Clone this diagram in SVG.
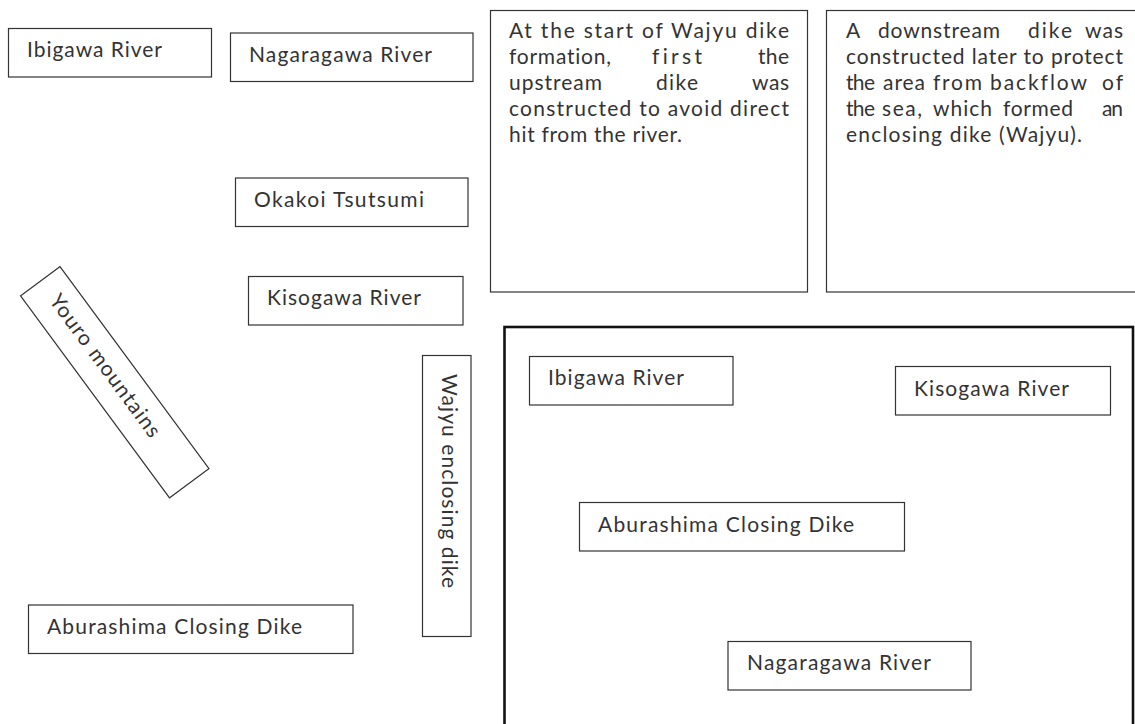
<svg xmlns="http://www.w3.org/2000/svg" width="1135" height="724" viewBox="0 0 1135 724">
<style>
  .box { fill: #ffffff; stroke: #333333; stroke-width: 1.2; }
  .frame { fill: none; stroke: #111111; stroke-width: 2.6; }
  .lbl, .para { font-family: Lato, "Noto Sans CJK JP", "Liberation Sans", sans-serif; font-size: 21px; font-weight: 400; fill: #333333; font-variant-ligatures: none; }
</style>
<rect width="1135" height="724" fill="#ffffff"/>

<g id="note-upstream">
  <rect class="box" x="490.5" y="10.5" width="317" height="281.5"/>
  <text class="para" x="509" y="38" textLength="280" lengthAdjust="spacing">At the start of Wajyu dike</text>
  <text class="para" x="509" y="64" textLength="102" lengthAdjust="spacing">formation,</text>
  <text class="para" x="652" y="64" textLength="50" lengthAdjust="spacing">first</text>
  <text class="para" x="758" y="64" textLength="31" lengthAdjust="spacing">the</text>
  <text class="para" x="509" y="90" textLength="93" lengthAdjust="spacing">upstream</text>
  <text class="para" x="656" y="90" textLength="42" lengthAdjust="spacing">dike</text>
  <text class="para" x="752" y="90" textLength="37" lengthAdjust="spacing">was</text>
  <text class="para" x="509" y="116" textLength="280" lengthAdjust="spacing">constructed to avoid direct</text>
  <text class="para" x="509" y="142" textLength="173" lengthAdjust="spacing">hit from the river.</text>
</g>

<g id="note-downstream">
  <rect class="box" x="826.5" y="10.5" width="330" height="281.5"/>
  <text class="para" x="846" y="38" textLength="11" lengthAdjust="spacing">A</text>
  <text class="para" x="878" y="38" textLength="122" lengthAdjust="spacing">downstream</text>
  <text class="para" x="1028" y="38" textLength="44" lengthAdjust="spacing">dike</text>
  <text class="para" x="1085" y="38" textLength="38" lengthAdjust="spacing">was</text>
  <text class="para" x="846" y="64" textLength="277" lengthAdjust="spacing">constructed later to protect</text>
  <text class="para" x="846" y="90" textLength="29" lengthAdjust="spacing">the</text>
  <text class="para" x="883" y="90" textLength="42" lengthAdjust="spacing">area</text>
  <text class="para" x="933" y="90" textLength="49" lengthAdjust="spacing">from</text>
  <text class="para" x="990" y="90" textLength="97" lengthAdjust="spacing">backflow</text>
  <text class="para" x="1102" y="90" textLength="21" lengthAdjust="spacing">of</text>
  <text class="para" x="846" y="116" textLength="29" lengthAdjust="spacing">the</text>
  <text class="para" x="882" y="116" textLength="40" lengthAdjust="spacing">sea,</text>
  <text class="para" x="933" y="116" textLength="59" lengthAdjust="spacing">which</text>
  <text class="para" x="1003" y="116" textLength="70" lengthAdjust="spacing">formed</text>
  <text class="para" x="1102" y="116" textLength="21" lengthAdjust="spacing">an</text>
  <text class="para" x="846" y="142" textLength="236" lengthAdjust="spacing">enclosing dike (Wajyu).</text>
</g>

<g id="ibigawa-left">
  <rect class="box" x="8.5" y="28.5" width="203" height="48.5"/>
  <text class="lbl" x="27" y="57" textLength="135" lengthAdjust="spacing">Ibigawa River</text>
</g>

<g id="nagaragawa-left">
  <rect class="box" x="230.5" y="33" width="242.5" height="48.5"/>
  <text class="lbl" x="249" y="62" textLength="183" lengthAdjust="spacing">Nagaragawa River</text>
</g>

<g id="okakoi">
  <rect class="box" x="235.5" y="178" width="232.5" height="48.5"/>
  <text class="lbl" x="254" y="206.5" textLength="170" lengthAdjust="spacing">Okakoi Tsutsumi</text>
</g>

<g id="kisogawa-left">
  <rect class="box" x="248.5" y="276.5" width="214.5" height="48.5"/>
  <text class="lbl" x="267" y="305" textLength="154" lengthAdjust="spacing">Kisogawa River</text>
</g>

<g id="youro" transform="translate(114.75,382.25) rotate(53.6)">
  <rect class="box" x="-125.5" y="-24.5" width="251" height="49"/>
  <text class="lbl" x="-105" y="5" textLength="172" lengthAdjust="spacing">Youro mountains</text>
</g>

<g id="wajyu-dike">
  <rect class="box" x="422.5" y="355.5" width="48.5" height="281"/>
  <text class="lbl" transform="translate(442,374) rotate(90)" x="0" y="0" textLength="214" lengthAdjust="spacing">Wajyu enclosing dike</text>
</g>

<g id="aburashima-left">
  <rect class="box" x="28.5" y="605" width="324.5" height="48.5"/>
  <text class="lbl" x="47" y="633.5" textLength="255" lengthAdjust="spacing">Aburashima Closing Dike</text>
</g>

<g id="map-frame">
  <rect class="frame" x="504.5" y="327" width="628.5" height="420"/>
</g>

<g id="ibigawa-map">
  <rect class="box" x="529.5" y="356.5" width="203.5" height="48.5"/>
  <text class="lbl" x="548" y="385" textLength="136" lengthAdjust="spacing">Ibigawa River</text>
</g>

<g id="kisogawa-map">
  <rect class="box" x="895.5" y="366.5" width="215" height="48.5"/>
  <text class="lbl" x="914" y="395.5" textLength="155" lengthAdjust="spacing">Kisogawa River</text>
</g>

<g id="aburashima-map">
  <rect class="box" x="579.5" y="502.5" width="325" height="48.5"/>
  <text class="lbl" x="598" y="531.5" textLength="256" lengthAdjust="spacing">Aburashima Closing Dike</text>
</g>

<g id="nagaragawa-map">
  <rect class="box" x="728" y="641.5" width="243" height="48.5"/>
  <text class="lbl" x="747" y="670" textLength="184" lengthAdjust="spacing">Nagaragawa River</text>
</g>

<g id="connectors"></g>
</svg>
